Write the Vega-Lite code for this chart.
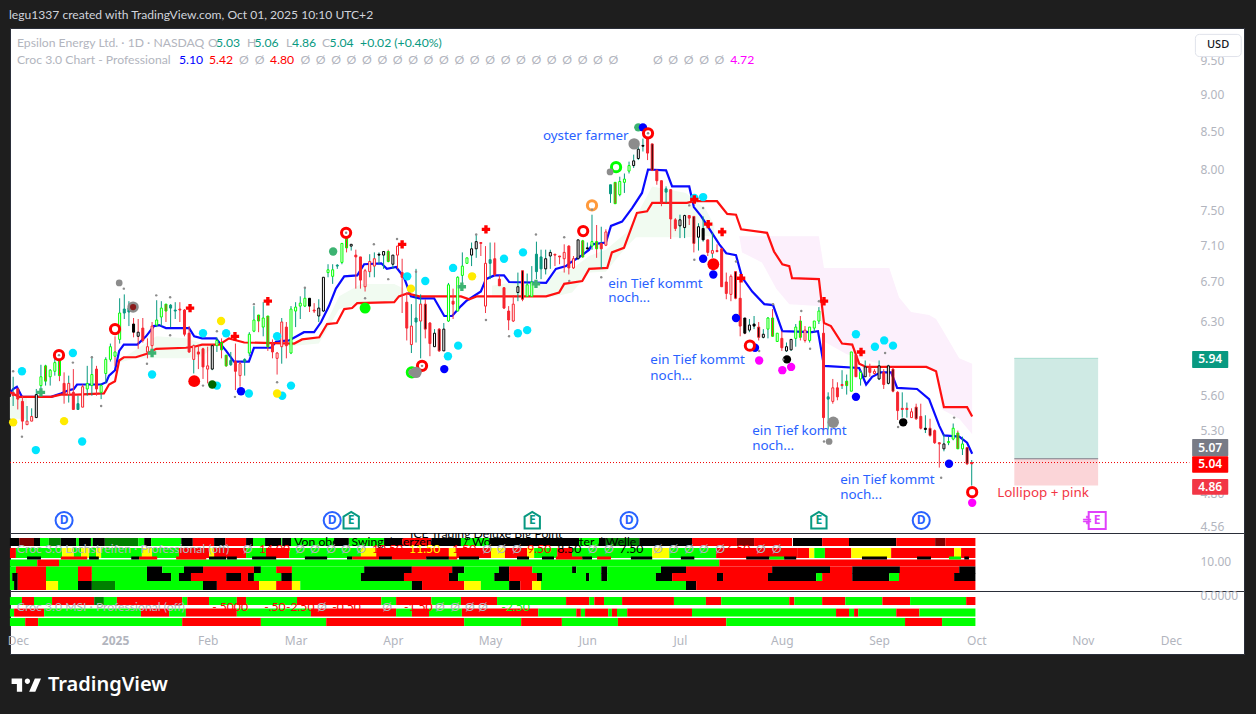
{"$schema":"https://vega.github.io/schema/vega-lite/v6.json",
"background":"#1e1e1e",
"padding":{"left":4,"top":9,"right":11,"bottom":0},
"bounds":"flush",
"spacing":0,
"title":{"text":"legu1337 created with TradingView.com, Oct 01, 2025 10:10 UTC+2","anchor":"start","frame":"group","color":"#d1d4dc","fontSize":12.1,"fontWeight":"normal","font":"Lato","offset":6,"dx":-1},
"config":{"view":{"fill":"white","stroke":"#2a2e39"},"font":"Noto Sans","axis":{"labelFont":"Noto Sans"}},
"datasets":{
"candles":[
{"i":-22,"o":5.63,"h":5.77,"l":5.51,"c":5.60,"k":"r","w":"up"},{"i":-21,"o":5.66,"h":5.67,"l":5.48,"c":5.57,"k":"r","w":"down"},{"i":-20,"o":5.55,"h":5.60,"l":5.31,"c":5.38,"k":"r","w":"down"},{"i":-19,"o":5.38,"h":5.51,"l":5.35,"c":5.35,"k":"h","w":"up"},{"i":-18,"o":5.42,"h":5.49,"l":5.38,"c":5.38,"k":"h","w":"up"},{"i":-17,"o":5.41,"h":5.66,"l":5.41,"c":5.61,"k":"b","w":"up"},{"i":-16,"o":5.69,"h":5.88,"l":5.63,"c":5.77,"k":"g","w":"up"},{"i":-15,"o":5.87,"h":5.88,"l":5.69,"c":5.73,"k":"m","w":"up"},{"i":-14,"o":5.77,"h":5.84,"l":5.69,"c":5.83,"k":"g","w":"up"},{"i":-13,"o":5.82,"h":5.97,"l":5.78,"c":5.90,"k":"g","w":"up"},{"i":-12,"o":5.92,"h":5.95,"l":5.73,"c":5.78,"k":"m","w":"down"},{"i":-11,"o":5.71,"h":5.81,"l":5.53,"c":5.61,"k":"r","w":"down"},{"i":-10,"o":5.71,"h":5.78,"l":5.54,"c":5.61,"k":"h","w":"up"},{"i":-9,"o":5.63,"h":5.84,"l":5.48,"c":5.48,"k":"r","w":"down"},{"i":-8,"o":5.53,"h":5.60,"l":5.48,"c":5.48,"k":"t","w":"up"},{"i":-7,"o":5.68,"h":5.70,"l":5.50,"c":5.50,"k":"h","w":"down"},{"i":-6,"o":5.66,"h":5.87,"l":5.60,"c":5.71,"k":"g","w":"up"},{"i":-5,"o":5.69,"h":5.96,"l":5.60,"c":5.79,"k":"g","w":"up"},{"i":-4,"o":5.84,"h":5.87,"l":5.60,"c":5.66,"k":"r","w":"down"},{"i":-3,"o":5.63,"h":5.71,"l":5.57,"c":5.69,"k":"g","w":"up"},{"i":-2,"o":5.80,"h":5.95,"l":5.71,"c":5.93,"k":"g","w":"up"},{"i":-1,"o":5.93,"h":6.08,"l":5.91,"c":6.05,"k":"g","w":"up"},{"i":0,"o":5.96,"h":6.15,"l":5.87,"c":6.00,"k":"g","w":"down"},
{"i":1,"o":6.12,"h":6.53,"l":6.08,"c":6.38,"k":"g","w":"up"},{"i":2,"o":6.38,"h":6.57,"l":6.32,"c":6.42,"k":"t","w":"up"},{"i":3,"o":6.39,"h":6.50,"l":6.25,"c":6.43,"k":"t","w":"up"},{"i":4,"o":6.27,"h":6.33,"l":6.14,"c":6.19,"k":"k","w":"down"},{"i":5,"o":6.15,"h":6.32,"l":6.03,"c":6.19,"k":"b","w":"down"},{"i":6,"o":6.23,"h":6.33,"l":6.09,"c":6.11,"k":"r","w":"down"},{"i":7,"o":6.05,"h":6.13,"l":5.94,"c":6.00,"k":"h","w":"down"},{"i":8,"o":6.25,"h":6.29,"l":6.00,"c":6.06,"k":"h","w":"down"},{"i":9,"o":6.26,"h":6.51,"l":6.24,"c":6.31,"k":"g","w":"up"},{"i":10,"o":6.34,"h":6.50,"l":6.25,"c":6.43,"k":"g","w":"up"},{"i":11,"o":6.47,"h":6.47,"l":6.29,"c":6.40,"k":"m","w":"down"},{"i":12,"o":6.43,"h":6.47,"l":6.24,"c":6.46,"k":"t","w":"up"},{"i":13,"o":6.41,"h":6.49,"l":6.32,"c":6.40,"k":"t","w":"up"},{"i":14,"o":6.42,"h":6.49,"l":6.29,"c":6.41,"k":"r","w":"down"},{"i":15,"o":6.41,"h":6.42,"l":6.15,"c":6.17,"k":"r","w":"down"},{"i":16,"o":6.18,"h":6.25,"l":5.99,"c":6.00,"k":"r","w":"down"},{"i":17,"o":6.06,"h":6.07,"l":5.80,"c":5.93,"k":"h","w":"up"},{"i":18,"o":6.00,"h":6.06,"l":5.84,"c":5.98,"k":"r","w":"down"},{"i":19,"o":6.03,"h":6.04,"l":5.75,"c":5.86,"k":"r","w":"down"},{"i":20,"o":5.87,"h":6.05,"l":5.71,"c":5.84,"k":"h","w":"down"},{"i":21,"o":5.84,"h":6.07,"l":5.83,"c":6.06,"k":"b","w":"up"},{"i":22,"o":6.06,"h":6.14,"l":6.00,"c":6.11,"k":"g","w":"up"},{"i":23,"o":6.09,"h":6.13,"l":5.94,"c":6.02,"k":"m","w":"down"},{"i":24,"o":5.97,"h":5.97,"l":5.86,"c":5.87,"k":"m","w":"down"},{"i":25,"o":5.88,"h":6.00,"l":5.87,"c":5.92,"k":"t","w":"up"},{"i":26,"o":5.91,"h":6.08,"l":5.65,"c":5.82,"k":"r","w":"down"},{"i":27,"o":5.89,"h":5.91,"l":5.68,"c":5.78,"k":"h","w":"down"},{"i":28,"o":5.91,"h":5.94,"l":5.78,"c":5.93,"k":"t","w":"up"},{"i":29,"o":5.99,"h":6.19,"l":5.96,"c":6.17,"k":"g","w":"up"},{"i":30,"o":6.20,"h":6.45,"l":6.19,"c":6.31,"k":"g","w":"up"},{"i":31,"o":6.36,"h":6.36,"l":6.19,"c":6.30,"k":"m","w":"down"},{"i":32,"o":6.24,"h":6.49,"l":6.15,"c":6.33,"k":"g","w":"up"},{"i":33,"o":6.35,"h":6.35,"l":6.01,"c":6.05,"k":"m","w":"down"},{"i":34,"o":6.08,"h":6.12,"l":5.94,"c":6.00,"k":"r","w":"down"},{"i":35,"o":5.99,"h":6.00,"l":5.79,"c":5.94,"k":"h","w":"down"},{"i":36,"o":6.29,"h":6.33,"l":5.89,"c":6.05,"k":"h","w":"up"},{"i":37,"o":6.24,"h":6.29,"l":5.94,"c":6.06,"k":"r","w":"down"},{"i":38,"o":5.99,"h":6.45,"l":5.98,"c":6.42,"k":"g","w":"up"},{"i":39,"o":6.40,"h":6.49,"l":6.24,"c":6.44,"k":"g","w":"up"},{"i":40,"o":6.45,"h":6.55,"l":6.32,"c":6.48,"k":"g","w":"up"},{"i":41,"o":6.45,"h":6.64,"l":6.44,"c":6.53,"k":"g","w":"up"},{"i":42,"o":6.53,"h":6.53,"l":6.39,"c":6.45,"k":"k","w":"down"},{"i":43,"o":6.41,"h":6.48,"l":6.38,"c":6.40,"k":"r","w":"down"},{"i":44,"o":6.35,"h":6.52,"l":6.29,"c":6.43,"k":"b","w":"up"},{"i":45,"o":6.40,"h":6.75,"l":6.39,"c":6.75,"k":"b","w":"up"},{"i":46,"o":6.80,"h":6.89,"l":6.75,"c":6.83,"k":"g","w":"up"},{"i":47,"o":6.76,"h":6.89,"l":6.68,"c":6.83,"k":"g","w":"up"},{"i":48,"o":6.87,"h":6.89,"l":6.84,"c":6.88,"k":"t","w":"up"},{"i":49,"o":6.91,"h":7.12,"l":6.89,"c":7.12,"k":"g","w":"up"},{"i":50,"o":7.18,"h":7.18,"l":7.02,"c":7.07,"k":"m","w":"down"},{"i":51,"o":7.09,"h":7.11,"l":7.04,"c":7.11,"k":"b","w":"up"},{"i":52,"o":6.99,"h":7.05,"l":6.63,"c":6.97,"k":"r","w":"down"},{"i":53,"o":6.97,"h":6.97,"l":6.63,"c":6.72,"k":"r","w":"down"},{"i":54,"o":6.82,"h":6.84,"l":6.60,"c":6.65,"k":"h","w":"down"},{"i":55,"o":6.92,"h":7.00,"l":6.75,"c":6.81,"k":"h","w":"up"},{"i":56,"o":6.95,"h":7.02,"l":6.75,"c":6.87,"k":"h","w":"up"},{"i":57,"o":6.99,"h":7.02,"l":6.89,"c":7.00,"k":"k","w":"up"},{"i":58,"o":6.99,"h":7.03,"l":6.84,"c":7.03,"k":"b","w":"up"},{"i":59,"o":7.03,"h":7.05,"l":6.91,"c":6.92,"k":"m","w":"down"},{"i":60,"o":6.89,"h":6.99,"l":6.84,"c":6.99,"k":"b","w":"up"},{"i":61,"o":7.09,"h":7.09,"l":6.84,"c":6.99,"k":"h","w":"down"},{"i":62,"o":6.80,"h":6.95,"l":6.38,"c":6.75,"k":"r","w":"down"},{"i":63,"o":6.49,"h":6.59,"l":6.11,"c":6.23,"k":"r","w":"down"},{"i":64,"o":6.25,"h":6.47,"l":5.99,"c":6.07,"k":"h","w":"up"},{"i":65,"o":6.29,"h":6.84,"l":6.09,"c":6.33,"k":"t","w":"up"},
{"i":66,"o":6.47,"h":6.57,"l":5.94,"c":6.30,"k":"h","w":"up"},{"i":67,"o":6.47,"h":6.52,"l":6.13,"c":6.22,"k":"n","w":"down"},{"i":68,"o":6.28,"h":6.29,"l":5.96,"c":6.08,"k":"r","w":"down"},{"i":69,"o":6.05,"h":6.22,"l":6.05,"c":6.18,"k":"b","w":"up"},{"i":70,"o":6.22,"h":6.23,"l":6.00,"c":6.01,"k":"n","w":"down"},{"i":71,"o":6.01,"h":6.28,"l":6.01,"c":6.22,"k":"b","w":"up"},{"i":72,"o":6.30,"h":6.69,"l":6.29,"c":6.67,"k":"g","w":"up"},{"i":73,"o":6.50,"h":6.63,"l":6.32,"c":6.47,"k":"r","w":"down"},{"i":74,"o":6.40,"h":6.76,"l":6.40,"c":6.75,"k":"g","w":"up"},{"i":75,"o":6.77,"h":7.02,"l":6.66,"c":6.87,"k":"g","w":"up"},{"i":76,"o":6.90,"h":6.96,"l":6.90,"c":6.96,"k":"g","w":"up"},{"i":77,"o":6.99,"h":7.13,"l":6.87,"c":7.06,"k":"b","w":"up"},{"i":78,"o":7.06,"h":7.22,"l":6.96,"c":7.14,"k":"b","w":"up"},{"i":79,"o":7.13,"h":7.13,"l":6.98,"c":7.12,"k":"r","w":"down"},{"i":80,"o":6.90,"h":7.09,"l":6.38,"c":6.45,"k":"h","w":"down"},{"i":81,"o":6.90,"h":7.13,"l":6.73,"c":6.94,"k":"t","w":"up"},{"i":82,"o":6.95,"h":7.13,"l":6.76,"c":6.78,"k":"r","w":"down"},{"i":83,"o":6.73,"h":6.77,"l":6.66,"c":6.66,"k":"r","w":"down"},{"i":84,"o":6.64,"h":6.64,"l":6.42,"c":6.43,"k":"r","w":"down"},{"i":85,"o":6.40,"h":6.45,"l":6.21,"c":6.31,"k":"r","w":"down"},{"i":86,"o":6.47,"h":6.56,"l":6.29,"c":6.30,"k":"h","w":"down"},{"i":87,"o":6.59,"h":6.80,"l":6.50,"c":6.65,"k":"b","w":"up"},{"i":88,"o":6.82,"h":6.82,"l":6.50,"c":6.52,"k":"n","w":"down"},{"i":89,"o":6.55,"h":6.79,"l":6.55,"c":6.67,"k":"g","w":"up"},{"i":90,"o":6.55,"h":6.87,"l":6.55,"c":6.70,"k":"g","w":"up"},{"i":91,"o":6.81,"h":7.14,"l":6.73,"c":7.00,"k":"t","w":"up"},{"i":92,"o":6.84,"h":7.05,"l":6.73,"c":6.97,"k":"t","w":"up"},{"i":93,"o":6.84,"h":7.05,"l":6.78,"c":6.95,"k":"b","w":"up"},{"i":94,"o":6.98,"h":7.05,"l":6.84,"c":7.02,"k":"b","w":"up"},{"i":95,"o":7.00,"h":7.00,"l":6.87,"c":6.99,"k":"r","w":"down"},{"i":96,"o":6.98,"h":6.98,"l":6.89,"c":6.97,"k":"r","w":"down"},{"i":97,"o":7.02,"h":7.11,"l":6.80,"c":6.95,"k":"h","w":"down"},{"i":98,"o":7.09,"h":7.10,"l":6.78,"c":6.85,"k":"r","w":"down"},{"i":99,"o":6.95,"h":6.98,"l":6.84,"c":6.85,"k":"h","w":"down"},{"i":100,"o":6.95,"h":7.16,"l":6.94,"c":7.16,"k":"b","w":"up"},{"i":101,"o":7.15,"h":7.16,"l":6.96,"c":6.97,"k":"m","w":"down"},{"i":102,"o":7.06,"h":7.13,"l":7.05,"c":7.07,"k":"k","w":"up"},{"i":103,"o":7.09,"h":7.45,"l":7.05,"c":7.14,"k":"g","w":"up"},{"i":104,"o":7.14,"h":7.33,"l":6.96,"c":7.06,"k":"m","w":"down"},{"i":105,"o":7.12,"h":7.31,"l":6.84,"c":7.06,"k":"r","w":"up"},{"i":106,"o":7.25,"h":7.28,"l":7.09,"c":7.10,"k":"h","w":"down"},{"i":107,"o":7.70,"h":7.81,"l":7.59,"c":7.81,"k":"t","w":"up"},{"i":108,"o":7.84,"h":7.84,"l":7.58,"c":7.58,"k":"m","w":"down"},{"i":109,"o":7.69,"h":7.91,"l":7.67,"c":7.85,"k":"g","w":"up"},{"i":110,"o":7.84,"h":7.95,"l":7.71,"c":7.88,"k":"g","w":"up"},{"i":111,"o":7.98,"h":8.10,"l":7.95,"c":8.05,"k":"g","w":"up"},{"i":112,"o":8.05,"h":8.19,"l":8.02,"c":8.11,"k":"b","w":"up"},{"i":113,"o":8.14,"h":8.34,"l":8.12,"c":8.26,"k":"b","w":"up"},{"i":114,"o":8.30,"h":8.40,"l":8.23,"c":8.31,"k":"k","w":"up"},{"i":115,"o":8.40,"h":8.48,"l":8.12,"c":8.21,"k":"r","w":"down"},{"i":116,"o":8.33,"h":8.33,"l":7.98,"c":7.99,"k":"n","w":"down"},{"i":117,"o":7.99,"h":8.00,"l":7.81,"c":7.86,"k":"r","w":"down"},{"i":118,"o":7.86,"h":7.86,"l":7.55,"c":7.59,"k":"r","w":"down"},{"i":119,"o":7.72,"h":7.79,"l":7.59,"c":7.76,"k":"t","w":"up"},{"i":120,"o":7.75,"h":7.75,"l":7.17,"c":7.40,"k":"r","w":"down"},{"i":121,"o":7.39,"h":7.41,"l":7.26,"c":7.29,"k":"r","w":"down"},{"i":122,"o":7.32,"h":7.45,"l":7.18,"c":7.39,"k":"b","w":"up"},{"i":123,"o":7.30,"h":7.45,"l":7.18,"c":7.44,"k":"b","w":"up"},{"i":124,"o":7.44,"h":7.44,"l":7.33,"c":7.41,"k":"r","w":"down"},{"i":125,"o":7.43,"h":7.43,"l":7.02,"c":7.12,"k":"n","w":"down"},{"i":126,"o":7.19,"h":7.35,"l":7.04,"c":7.31,"k":"b","w":"up"},{"i":127,"o":7.29,"h":7.43,"l":7.14,"c":7.16,"k":"k","w":"up"},{"i":128,"o":7.16,"h":7.16,"l":6.98,"c":7.02,"k":"r","w":"down"},{"i":129,"o":7.04,"h":7.24,"l":6.96,"c":7.01,"k":"h","w":"up"},{"i":130,"o":7.04,"h":7.11,"l":7.02,"c":7.03,"k":"r","w":"down"},{"i":131,"o":7.06,"h":7.07,"l":6.65,"c":6.65,"k":"r","w":"down"},{"i":132,"o":6.70,"h":6.80,"l":6.52,"c":6.58,"k":"r","w":"down"},{"i":133,"o":6.76,"h":6.78,"l":6.50,"c":6.57,"k":"h","w":"down"},{"i":134,"o":6.81,"h":6.81,"l":6.52,"c":6.53,"k":"n","w":"down"},{"i":135,"o":6.53,"h":6.73,"l":6.15,"c":6.25,"k":"r","w":"down"},{"i":136,"o":6.33,"h":6.33,"l":6.17,"c":6.18,"k":"k","w":"down"},{"i":137,"o":6.21,"h":6.32,"l":6.19,"c":6.26,"k":"b","w":"up"},{"i":138,"o":6.25,"h":6.35,"l":6.22,"c":6.27,"k":"k","w":"up"},{"i":139,"o":6.24,"h":6.29,"l":6.11,"c":6.14,"k":"n","w":"down"},{"i":140,"o":6.14,"h":6.22,"l":6.13,"c":6.17,"k":"b","w":"up"},{"i":141,"o":6.22,"h":6.34,"l":6.13,"c":6.33,"k":"g","w":"up"},{"i":142,"o":6.33,"h":6.42,"l":6.15,"c":6.15,"k":"m","w":"down"},{"i":143,"o":6.10,"h":6.18,"l":6.10,"c":6.18,"k":"g","w":"up"},
{"i":144,"o":6.13,"h":6.20,"l":6.01,"c":6.04,"k":"r","w":"down"},{"i":145,"o":6.01,"h":6.09,"l":6.00,"c":6.05,"k":"b","w":"up"},{"i":146,"o":6.02,"h":6.12,"l":6.01,"c":6.12,"k":"b","w":"up"},{"i":147,"o":6.13,"h":6.27,"l":6.05,"c":6.24,"k":"g","w":"up"},{"i":148,"o":6.30,"h":6.35,"l":6.11,"c":6.14,"k":"m","w":"down"},{"i":149,"o":6.21,"h":6.25,"l":6.09,"c":6.11,"k":"h","w":"down"},{"i":150,"o":6.11,"h":6.24,"l":6.09,"c":6.24,"k":"g","w":"up"},{"i":151,"o":6.23,"h":6.30,"l":6.19,"c":6.30,"k":"g","w":"up"},{"i":152,"o":6.30,"h":6.44,"l":6.27,"c":6.40,"k":"g","w":"up"},{"i":153,"o":6.18,"h":6.27,"l":5.31,"c":5.41,"k":"r","w":"down"},{"i":154,"o":5.57,"h":5.63,"l":5.31,"c":5.59,"k":"t","w":"up"},{"i":155,"o":5.67,"h":5.75,"l":5.53,"c":5.55,"k":"h","w":"down"},{"i":156,"o":5.67,"h":5.72,"l":5.56,"c":5.59,"k":"r","w":"down"},{"i":157,"o":5.70,"h":5.83,"l":5.66,"c":5.69,"k":"r","w":"up"},{"i":158,"o":5.73,"h":5.79,"l":5.61,"c":5.69,"k":"m","w":"up"},{"i":159,"o":5.64,"h":6.00,"l":5.64,"c":6.00,"k":"g","w":"up"},{"i":160,"o":5.97,"h":5.98,"l":5.77,"c":5.77,"k":"r","w":"down"},{"i":161,"o":5.75,"h":5.83,"l":5.69,"c":5.81,"k":"g","w":"up"},{"i":162,"o":5.77,"h":5.92,"l":5.77,"c":5.86,"k":"b","w":"up"},{"i":163,"o":5.86,"h":5.89,"l":5.77,"c":5.81,"k":"r","w":"down"},{"i":164,"o":5.82,"h":5.84,"l":5.79,"c":5.80,"k":"h","w":"down"},{"i":165,"o":5.75,"h":5.92,"l":5.74,"c":5.87,"k":"b","w":"up"},{"i":166,"o":5.81,"h":5.84,"l":5.66,"c":5.70,"k":"r","w":"down"},{"i":167,"o":5.71,"h":5.88,"l":5.70,"c":5.87,"k":"b","w":"up"},{"i":168,"o":5.84,"h":5.86,"l":5.63,"c":5.64,"k":"n","w":"down"},{"i":169,"o":5.63,"h":5.64,"l":5.39,"c":5.47,"k":"r","w":"down"},{"i":170,"o":5.49,"h":5.63,"l":5.41,"c":5.48,"k":"r","w":"up"},{"i":171,"o":5.49,"h":5.54,"l":5.41,"c":5.48,"k":"r","w":"up"},{"i":172,"o":5.46,"h":5.49,"l":5.41,"c":5.41,"k":"h","w":"down"},{"i":173,"o":5.50,"h":5.53,"l":5.39,"c":5.40,"k":"n","w":"down"},{"i":174,"o":5.42,"h":5.53,"l":5.31,"c":5.32,"k":"r","w":"down"},{"i":175,"o":5.31,"h":5.43,"l":5.28,"c":5.32,"k":"k","w":"up"},{"i":176,"o":5.32,"h":5.40,"l":5.25,"c":5.26,"k":"n","w":"down"},{"i":177,"o":5.30,"h":5.31,"l":5.19,"c":5.20,"k":"r","w":"down"},{"i":178,"o":5.20,"h":5.20,"l":5.00,"c":5.19,"k":"r","w":"down"},{"i":179,"o":5.15,"h":5.27,"l":5.13,"c":5.19,"k":"b","w":"up"},{"i":180,"o":5.20,"h":5.25,"l":5.18,"c":5.21,"k":"g","w":"up"},{"i":181,"o":5.23,"h":5.36,"l":5.22,"c":5.32,"k":"g","w":"up"},{"i":182,"o":5.28,"h":5.30,"l":5.15,"c":5.15,"k":"m","w":"down"},{"i":183,"o":5.15,"h":5.25,"l":5.10,"c":5.19,"k":"g","w":"up"},{"i":184,"o":5.16,"h":5.16,"l":5.02,"c":5.03,"k":"n","w":"down"},{"i":185,"o":5.03,"h":5.06,"l":4.86,"c":5.04,"k":"r","w":"up"}
],
"lines":[
{"s":"blue","i":-22.7,"p":5.62},{"s":"blue","i":-22,"p":5.66},{"s":"blue","i":-21.2,"p":5.68},{"s":"blue","i":-20.1,"p":5.59},{"s":"blue","i":-17.9,"p":5.59},{"s":"blue","i":-13.8,"p":5.59},{"s":"blue","i":-11.7,"p":5.62},{"s":"blue","i":-9.9,"p":5.65},{"s":"blue","i":-8.9,"p":5.66},{"s":"blue","i":-8.2,"p":5.70},{"s":"blue","i":-3,"p":5.70},{"s":"blue","i":-1.9,"p":5.72},{"s":"blue","i":-1.3,"p":5.78},{"s":"blue","i":0,"p":5.83},{"s":"blue","i":0.2,"p":5.87},{"s":"blue","i":0.9,"p":6.01},{"s":"blue","i":1.9,"p":6.07},{"s":"blue","i":4.8,"p":6.07},{"s":"blue","i":6.7,"p":6.15},{"s":"blue","i":8.4,"p":6.25},{"s":"blue","i":9.5,"p":6.26},{"s":"blue","i":11,"p":6.23},{"s":"blue","i":16,"p":6.23},{"s":"blue","i":17.1,"p":6.15},{"s":"blue","i":18.8,"p":6.13},{"s":"blue","i":21.8,"p":6.13},{"s":"blue","i":24,"p":6.01},{"s":"blue","i":25.7,"p":5.91},{"s":"blue","i":28.9,"p":5.91},{"s":"blue","i":30,"p":6.04},{"s":"blue","i":33.7,"p":6.04},{"s":"blue","i":34.8,"p":6.10},{"s":"blue","i":37.6,"p":6.11},{"s":"blue","i":40.8,"p":6.19},{"s":"blue","i":43,"p":6.19},{"s":"blue","i":44.5,"p":6.29},{"s":"blue","i":46.2,"p":6.45},{"s":"blue","i":47.7,"p":6.63},{"s":"blue","i":49.5,"p":6.76},{"s":"blue","i":52.3,"p":6.77},{"s":"blue","i":53.8,"p":6.89},{"s":"blue","i":57.5,"p":6.90},{"s":"blue","i":58.7,"p":6.84},{"s":"blue","i":60.7,"p":6.86},{"s":"blue","i":62.4,"p":6.75},{"s":"blue","i":63.9,"p":6.55},{"s":"blue","i":65.7,"p":6.53},{"s":"blue","i":68.9,"p":6.53},{"s":"blue","i":71.1,"p":6.35},{"s":"blue","i":72.8,"p":6.35},{"s":"blue","i":74.7,"p":6.45},{"s":"blue","i":75.8,"p":6.50},{"s":"blue","i":79,"p":6.60},{"s":"blue","i":80.1,"p":6.73},{"s":"blue","i":81.9,"p":6.77},{"s":"blue","i":84,"p":6.77},{"s":"blue","i":85.1,"p":6.70},{"s":"blue","i":93.1,"p":6.69},{"s":"blue","i":95.2,"p":6.84},{"s":"blue","i":97.4,"p":6.87},{"s":"blue","i":98.1,"p":6.90},{"s":"blue","i":100.6,"p":6.98},{"s":"blue","i":102.4,"p":7.05},{"s":"blue","i":103,"p":7.11},{"s":"blue","i":106,"p":7.13},{"s":"blue","i":107.1,"p":7.32},{"s":"blue","i":109.5,"p":7.37},{"s":"blue","i":111.7,"p":7.53},{"s":"blue","i":113.8,"p":7.71},{"s":"blue","i":115.1,"p":8.00},{"s":"blue","i":119,"p":7.99},{"s":"blue","i":120.3,"p":7.79},{"s":"blue","i":124,"p":7.79},{"s":"blue","i":125,"p":7.54},{"s":"blue","i":126.6,"p":7.43},{"s":"blue","i":128.9,"p":7.24},{"s":"blue","i":130.5,"p":7.11},{"s":"blue","i":132,"p":7.01},{"s":"blue","i":134.1,"p":6.99},{"s":"blue","i":135.4,"p":6.75},{"s":"blue","i":137.6,"p":6.60},{"s":"blue","i":140.2,"p":6.47},{"s":"blue","i":142.1,"p":6.46},{"s":"blue","i":144.1,"p":6.20},{"s":"blue","i":150.5,"p":6.19},{"s":"blue","i":151.8,"p":6.20},{"s":"blue","i":153.1,"p":5.87},{"s":"blue","i":160.7,"p":5.85},{"s":"blue","i":162.2,"p":5.70},{"s":"blue","i":163.5,"p":5.77},{"s":"blue","i":165.4,"p":5.81},{"s":"blue","i":167.6,"p":5.81},{"s":"blue","i":168.9,"p":5.67},{"s":"blue","i":173.2,"p":5.66},{"s":"blue","i":175.8,"p":5.57},{"s":"blue","i":178,"p":5.34},{"s":"blue","i":179,"p":5.26},{"s":"blue","i":182.3,"p":5.25},{"s":"blue","i":184,"p":5.20},{"s":"blue","i":185.1,"p":5.11},
{"s":"red","i":-22.7,"p":5.63},{"s":"red","i":-20.7,"p":5.59},{"s":"red","i":-13.8,"p":5.59},{"s":"red","i":-11.7,"p":5.61},{"s":"red","i":-8.2,"p":5.61},{"s":"red","i":-2.4,"p":5.62},{"s":"red","i":-1.3,"p":5.70},{"s":"red","i":0,"p":5.73},{"s":"red","i":0.9,"p":5.92},{"s":"red","i":1.9,"p":5.95},{"s":"red","i":4.5,"p":5.95},{"s":"red","i":6.7,"p":5.98},{"s":"red","i":8.9,"p":6.03},{"s":"red","i":15.3,"p":6.04},{"s":"red","i":17.1,"p":6.05},{"s":"red","i":18.8,"p":6.07},{"s":"red","i":22.5,"p":6.07},{"s":"red","i":24.6,"p":6.13},{"s":"red","i":27.9,"p":6.09},{"s":"red","i":38.7,"p":6.08},{"s":"red","i":40.4,"p":6.12},{"s":"red","i":44.1,"p":6.14},{"s":"red","i":45.8,"p":6.27},{"s":"red","i":47.9,"p":6.28},{"s":"red","i":49.5,"p":6.42},{"s":"red","i":51.2,"p":6.43},{"s":"red","i":52.3,"p":6.48},{"s":"red","i":60.3,"p":6.49},{"s":"red","i":61.3,"p":6.55},{"s":"red","i":63.1,"p":6.58},{"s":"red","i":65.7,"p":6.55},{"s":"red","i":74.7,"p":6.55},{"s":"red","i":76.5,"p":6.52},{"s":"red","i":78.2,"p":6.55},{"s":"red","i":93.1,"p":6.55},{"s":"red","i":95.9,"p":6.59},{"s":"red","i":97,"p":6.68},{"s":"red","i":100.9,"p":6.71},{"s":"red","i":102.4,"p":6.84},{"s":"red","i":106.3,"p":6.85},{"s":"red","i":107.3,"p":7.02},{"s":"red","i":109.9,"p":7.07},{"s":"red","i":112.7,"p":7.47},{"s":"red","i":114.9,"p":7.49},{"s":"red","i":116,"p":7.59},{"s":"red","i":123.5,"p":7.59},{"s":"red","i":125,"p":7.61},{"s":"red","i":130,"p":7.61},{"s":"red","i":132.2,"p":7.46},{"s":"red","i":134.1,"p":7.45},{"s":"red","i":135.2,"p":7.28},{"s":"red","i":140.8,"p":7.24},{"s":"red","i":142.3,"p":7.03},{"s":"red","i":144.1,"p":6.89},{"s":"red","i":145.6,"p":6.87},{"s":"red","i":146.2,"p":6.74},{"s":"red","i":152,"p":6.73},{"s":"red","i":153.1,"p":6.28},{"s":"red","i":154.6,"p":6.25},{"s":"red","i":157,"p":6.08},{"s":"red","i":159.2,"p":6.07},{"s":"red","i":160.7,"p":5.89},{"s":"red","i":162.2,"p":5.86},{"s":"red","i":175.2,"p":5.86},{"s":"red","i":177.3,"p":5.82},{"s":"red","i":179,"p":5.50},{"s":"red","i":184,"p":5.50},{"s":"red","i":185.1,"p":5.42}
],
"clouds":[
{"c":"g1","t":"bull","i":-22.7,"u":5.59,"d":5.40},{"c":"g1","t":"bull","i":-19,"u":5.59,"d":5.40},
{"c":"g2","t":"bull","i":0.9,"u":5.92,"d":5.90},{"c":"g2","t":"bull","i":4.5,"u":6.02,"d":5.94},{"c":"g2","t":"bull","i":8.9,"u":6.15,"d":5.94},{"c":"g2","t":"bull","i":15.3,"u":6.13,"d":5.94},{"c":"g2","t":"bull","i":18.8,"u":6.08,"d":5.96},{"c":"g2","t":"bull","i":22,"u":6.07,"d":6.07},
{"c":"g3","t":"bull","i":36.5,"u":6.07,"d":6.05},{"c":"g3","t":"bull","i":44,"u":6.13,"d":6.08},{"c":"g3","t":"bull","i":48.4,"u":6.55,"d":6.42},{"c":"g3","t":"bull","i":53.1,"u":6.68,"d":6.48},{"c":"g3","t":"bull","i":60.3,"u":6.68,"d":6.49},{"c":"g3","t":"bull","i":62.4,"u":6.63,"d":6.57},
{"c":"g4","t":"bull","i":81.4,"u":6.66,"d":6.55},{"c":"g4","t":"bull","i":85.1,"u":6.69,"d":6.54},{"c":"g4","t":"bull","i":93.1,"u":6.68,"d":6.54},{"c":"g4","t":"bull","i":95.2,"u":6.80,"d":6.55},{"c":"g4","t":"bull","i":98.7,"u":6.84,"d":6.59},{"c":"g4","t":"bull","i":102.4,"u":6.98,"d":6.80},{"c":"g4","t":"bull","i":106,"u":7.05,"d":6.81},{"c":"g4","t":"bull","i":110.4,"u":7.24,"d":7.08},{"c":"g4","t":"bull","i":112.5,"u":7.43,"d":7.19},{"c":"g4","t":"bull","i":116,"u":7.79,"d":7.19},{"c":"g4","t":"bull","i":123.3,"u":7.71,"d":7.19},{"c":"g4","t":"bull","i":127.6,"u":7.51,"d":7.20},{"c":"g4","t":"bull","i":129.4,"u":7.33,"d":7.20},
{"c":"p1","t":"bear","i":134.8,"u":7.20,"d":7.20},{"c":"p1","t":"bear","i":135.4,"u":7.20,"d":7.02},{"c":"p1","t":"bear","i":139.7,"u":7.20,"d":6.91},{"c":"p1","t":"bear","i":142.8,"u":7.20,"d":6.63},{"c":"p1","t":"bear","i":145.6,"u":7.20,"d":6.47},{"c":"p1","t":"bear","i":152,"u":7.20,"d":6.45},{"c":"p1","t":"bear","i":153.1,"u":6.85,"d":6.10},{"c":"p1","t":"bear","i":157.9,"u":6.85,"d":5.98},{"c":"p1","t":"bear","i":161,"u":6.85,"d":5.94},{"c":"p1","t":"bear","i":167.2,"u":6.85,"d":5.86},{"c":"p1","t":"bear","i":169.3,"u":6.54,"d":5.86},{"c":"p1","t":"bear","i":171.9,"u":6.39,"d":5.86},{"c":"p1","t":"bear","i":175.8,"u":6.36,"d":5.86},{"c":"p1","t":"bear","i":177.3,"u":6.32,"d":5.82},{"c":"p1","t":"bear","i":178.6,"u":6.22,"d":5.48},{"c":"p1","t":"bear","i":182.3,"u":5.94,"d":5.40},{"c":"p1","t":"bear","i":185.1,"u":5.89,"d":5.27}
],
"dots":[
{"i":-20.1,"p":5.82,"n":"cyan"},{"i":-17.1,"p":5.14,"n":"cyan"},{"i":-9.1,"p":5.99,"n":"cyan"},{"i":-7.1,"p":5.21,"n":"cyan"},{"i":8,"p":5.79,"n":"cyan"},{"i":19,"p":6.18,"n":"cyan"},{"i":22,"p":5.69,"n":"cyan"},{"i":24,"p":6.18,"n":"cyan"},{"i":28.9,"p":5.62,"n":"cyan"},{"i":35,"p":6.15,"n":"cyan"},{"i":36.1,"p":5.60,"n":"cyan"},{"i":38,"p":5.69,"n":"cyan"},{"i":63.1,"p":6.76,"n":"cyan"},{"i":67,"p":6.71,"n":"cyan"},{"i":73,"p":6.85,"n":"cyan"},{"i":84,"p":6.95,"n":"cyan"},{"i":88.1,"p":7.02,"n":"cyan"},{"i":87,"p":6.18,"n":"cyan"},{"i":89,"p":6.21,"n":"cyan"},{"i":74.1,"p":6.06,"n":"cyan"},{"i":71.9,"p":5.96,"n":"cyan"},{"i":125.1,"p":7.65,"n":"cyan"},{"i":127,"p":7.66,"n":"cyan"},{"i":160,"p":6.17,"n":"cyan"},{"i":164.1,"p":6.05,"n":"cyan"},{"i":166.1,"p":6.11,"n":"cyan"},{"i":168,"p":6.06,"n":"cyan"},
{"i":-22,"p":5.37,"n":"yellow"},{"i":-11,"p":5.38,"n":"yellow"},{"i":22.9,"p":6.30,"n":"yellow"},{"i":35,"p":5.62,"n":"yellow"},{"i":63.9,"p":6.63,"n":"yellow"},{"i":77.1,"p":6.76,"n":"yellow"},
{"i":27.2,"p":5.64,"n":"blue"},{"i":127,"p":6.95,"n":"blue"},{"i":129.2,"p":6.78,"n":"blue"},{"i":134.1,"p":6.33,"n":"blue"},{"i":138.2,"p":6.04,"n":"blue"},{"i":160,"p":5.59,"n":"blue"},{"i":180.1,"p":5.03,"n":"blue"},{"i":71.1,"p":5.84,"n":"blue"},
{"i":47.1,"p":7.03,"n":"sea"},{"i":113,"p":8.55,"n":"sea"},{"i":114,"p":8.55,"n":"blue"},
{"i":54,"p":6.43,"n":"lime"},{"i":17.1,"p":5.73,"n":"red"},{"i":129.2,"p":6.89,"n":"red"},{"i":21,"p":5.70,"n":"forest"},
{"i":139.1,"p":5.92,"n":"magenta"},{"i":144.1,"p":5.83,"n":"magenta"},{"i":146,"p":5.86,"n":"magenta"},{"i":185.1,"p":4.73,"n":"magenta"},{"i":145.1,"p":5.93,"n":"black"},{"i":170.2,"p":5.37,"n":"black"}
],
"rings":[
{"i":-12.1,"p":5.97,"n":"red"},{"i":0,"p":6.22,"n":"red"},{"i":49.9,"p":7.24,"n":"red"},{"i":66.3,"p":5.87,"n":"red"},{"i":101.1,"p":7.26,"n":"red"},{"i":115.1,"p":8.47,"n":"red"},{"i":137.1,"p":6.06,"n":"red"},{"i":185.1,"p":4.81,"n":"red"},{"i":103,"p":7.56,"n":"orange"},{"i":108.2,"p":8.03,"n":"lime"},{"i":64.1,"p":5.81,"n":"lime"}
],
"crosses":[
{"i":16.2,"p":6.43,"n":"red"},{"i":33,"p":6.50,"n":"red"},{"i":25.9,"p":6.15,"n":"red"},{"i":62,"p":7.11,"n":"red"},{"i":80.1,"p":7.28,"n":"red"},{"i":125.1,"p":7.63,"n":"red"},{"i":128.1,"p":7.34,"n":"red"},{"i":131.1,"p":7.25,"n":"red"},{"i":135.2,"p":6.74,"n":"red"},{"i":153.1,"p":6.50,"n":"red"},{"i":161.1,"p":6.00,"n":"red"},{"i":-16,"p":5.63,"n":"sea"},{"i":8,"p":5.99,"n":"sea"},{"i":74.9,"p":6.65,"n":"sea"},{"i":90.9,"p":6.68,"n":"sea"}
],
"overlay":[
{"i":3.9,"p":6.44,"n":"greyB"},{"i":112.1,"p":8.33,"n":"greyB"},{"i":155.1,"p":5.37,"n":"greyB"},{"i":65,"p":5.81,"n":"greyB"},{"i":0.9,"p":6.69,"n":"grey"},{"i":154.2,"p":5.21,"n":"grey"},{"i":106.9,"p":7.97,"n":"grey"},{"i":64.1,"p":5.81,"n":"grey"},{"i":3.9,"p":6.44,"n":"maroon"},
{"i":-20.1,"p":5.25,"n":"tiny"},{"i":-22,"p":5.82,"n":"tiny"},{"i":-9.1,"p":5.90,"n":"tiny"},{"i":-5,"p":5.95,"n":"tiny"},{"i":-3,"p":5.51,"n":"tiny"},{"i":1.9,"p":6.63,"n":"tiny"},{"i":6.9,"p":5.89,"n":"tiny"},{"i":8.9,"p":6.56,"n":"tiny"},{"i":11.9,"p":6.54,"n":"tiny"},{"i":11.9,"p":6.16,"n":"tiny"},{"i":19,"p":5.69,"n":"tiny"},{"i":22,"p":6.20,"n":"tiny"},{"i":25.9,"p":5.59,"n":"tiny"},{"i":30,"p":6.47,"n":"tiny"},{"i":35,"p":5.72,"n":"tiny"},{"i":41,"p":6.64,"n":"tiny"},{"i":49.9,"p":7.24,"n":"tiny"},{"i":-12.1,"p":5.97,"n":"tiny"},{"i":54,"p":6.53,"n":"tiny"},{"i":55.9,"p":7.11,"n":"tiny"},{"i":59,"p":6.73,"n":"tiny"},{"i":60.9,"p":7.17,"n":"tiny"},{"i":65,"p":6.81,"n":"tiny"},{"i":78,"p":7.22,"n":"tiny"},{"i":80.1,"p":6.31,"n":"tiny"},{"i":85.1,"p":6.15,"n":"tiny"},{"i":90.9,"p":7.22,"n":"tiny"},{"i":97,"p":7.19,"n":"tiny"},{"i":98.1,"p":6.71,"n":"tiny"},{"i":105,"p":6.75,"n":"tiny"},{"i":103,"p":7.51,"n":"tiny"},{"i":115.1,"p":8.47,"n":"tiny"},{"i":124,"p":7.56,"n":"tiny"},{"i":127,"p":7.53,"n":"tiny"},{"i":125.1,"p":6.94,"n":"tiny"},{"i":134.1,"p":6.92,"n":"tiny"},{"i":142.1,"p":6.47,"n":"tiny"},{"i":148.2,"p":6.40,"n":"tiny"},{"i":150.1,"p":6.03,"n":"tiny"},{"i":152,"p":6.50,"n":"tiny"},{"i":139.1,"p":6.01,"n":"tiny"},{"i":144.3,"p":5.93,"n":"tiny"},{"i":169.1,"p":5.33,"n":"tiny"},{"i":166.3,"p":5.99,"n":"tiny"},{"i":181.2,"p":5.41,"n":"tiny"},{"i":178.4,"p":4.92,"n":"tiny"},{"i":153.1,"p":5.21,"n":"tiny"},{"i":66.3,"p":5.87,"n":"tiny"}
],
"tool":[{"a":194.2,"b":212.3,"t":5.94,"d":5.07,"z":"target"},{"a":194.2,"b":212.3,"t":5.07,"d":4.86,"z":"stop"}],
"levels":[{"a":194.2,"b":212.3,"p":5.94,"z":"target"},{"a":194.2,"b":212.3,"p":5.07,"z":"entry"},{"a":-22.68,"b":232,"p":5.04,"z":"last"}],
"tags":[{"a":232.6,"b":240.4,"t":6.01,"d":5.85,"m":5.93,"x":236.5,"z":"target","text":"5.94"},{"a":232.6,"b":240.4,"t":5.23,"d":5.09,"m":5.16,"x":236.5,"z":"entry","text":"5.07"},{"a":232.6,"b":240.4,"t":5.09,"d":4.96,"m":5.03,"x":236.5,"z":"last","text":"5.04"},{"a":232.6,"b":240.4,"t":4.91,"d":4.79,"m":4.85,"x":236.5,"z":"stop","text":"4.86"}],
"events":[{"i":-11,"p":4.6,"n":"D"},{"i":46.9,"p":4.6,"n":"D"},{"i":111,"p":4.6,"n":"D"},{"i":174.1,"p":4.6,"n":"D"},{"i":51,"p":4.6,"n":"E"},{"i":90.1,"p":4.6,"n":"E"},{"i":152,"p":4.6,"n":"E"},{"i":212.1,"p":4.6,"n":"P"}],
"eventText":[{"i":-11,"p":4.6,"n":"D","text":"D"},{"i":46.9,"p":4.6,"n":"D","text":"D"},{"i":111,"p":4.6,"n":"D","text":"D"},{"i":174.1,"p":4.6,"n":"D","text":"D"},{"i":51,"p":4.6,"n":"E","text":"E"},{"i":90.1,"p":4.6,"n":"E","text":"E"},{"i":152,"p":4.6,"n":"E","text":"E"},{"i":212.1,"p":4.6,"n":"P","text":"E"},{"i":209.9,"p":4.6,"n":"P","text":"≑"}],
"legend":[
{"x":-21.17,"p":9.77,"t":"grey","text":"Epsilon Energy Ltd. · 1D · NASDAQ"},{"x":20.09,"p":9.77,"t":"grey","text":"O"},{"x":21.81,"p":9.77,"t":"green","text":"5.03"},{"x":28.5,"p":9.77,"t":"grey","text":"H"},{"x":30.13,"p":9.77,"t":"green","text":"5.06"},{"x":36.93,"p":9.77,"t":"grey","text":"L"},{"x":38.23,"p":9.77,"t":"green","text":"4.86"},{"x":44.71,"p":9.77,"t":"grey","text":"C"},{"x":46.33,"p":9.77,"t":"green","text":"5.04"},{"x":52.92,"p":9.77,"t":"green","text":"+0.02 (+0.40%)"},
{"x":-21.17,"p":9.51,"t":"grey","text":"Croc 3.0 Chart - Professional"},{"x":13.82,"p":9.51,"t":"blue","text":"5.10"},{"x":20.3,"p":9.51,"t":"red","text":"5.42"},{"x":26.78,"p":9.51,"t":"grey","text":"Ø"},{"x":30.2,"p":9.51,"t":"grey","text":"Ø"},{"x":33.48,"p":9.51,"t":"red","text":"4.80"},
{"x":40.03,"p":9.51,"t":"grey","text":"Ø"},{"x":43.36,"p":9.51,"t":"grey","text":"Ø"},{"x":46.68,"p":9.51,"t":"grey","text":"Ø"},{"x":50.01,"p":9.51,"t":"grey","text":"Ø"},{"x":53.33,"p":9.51,"t":"grey","text":"Ø"},{"x":56.66,"p":9.51,"t":"grey","text":"Ø"},{"x":59.99,"p":9.51,"t":"grey","text":"Ø"},{"x":63.31,"p":9.51,"t":"grey","text":"Ø"},{"x":66.64,"p":9.51,"t":"grey","text":"Ø"},{"x":69.96,"p":9.51,"t":"grey","text":"Ø"},{"x":73.29,"p":9.51,"t":"grey","text":"Ø"},{"x":76.62,"p":9.51,"t":"grey","text":"Ø"},{"x":79.94,"p":9.51,"t":"grey","text":"Ø"},{"x":83.27,"p":9.51,"t":"grey","text":"Ø"},{"x":86.6,"p":9.51,"t":"grey","text":"Ø"},{"x":89.92,"p":9.51,"t":"grey","text":"Ø"},{"x":93.25,"p":9.51,"t":"grey","text":"Ø"},{"x":96.57,"p":9.51,"t":"grey","text":"Ø"},{"x":99.9,"p":9.51,"t":"grey","text":"Ø"},{"x":103.23,"p":9.51,"t":"grey","text":"Ø"},{"x":106.55,"p":9.51,"t":"grey","text":"Ø"},
{"x":116.16,"p":9.51,"t":"grey","text":"Ø"},{"x":119.49,"p":9.51,"t":"grey","text":"Ø"},{"x":122.82,"p":9.51,"t":"grey","text":"Ø"},{"x":126.14,"p":9.51,"t":"grey","text":"Ø"},{"x":129.47,"p":9.51,"t":"grey","text":"Ø"},{"x":132.83,"p":9.51,"t":"magenta","text":"4.72"}
],
"notes":[
{"x":92.4,"p":8.43,"t":"note","text":"oyster farmer"},{"x":106.5,"p":6.68,"t":"note","text":"ein Tief kommt"},{"x":106.5,"p":6.53,"t":"note","text":"noch..."},{"x":115.6,"p":5.92,"t":"note","text":"ein Tief kommt"},{"x":115.6,"p":5.78,"t":"note","text":"noch..."},{"x":137.6,"p":5.30,"t":"note","text":"ein Tief kommt"},{"x":137.6,"p":5.17,"t":"note","text":"noch..."},{"x":156.6,"p":4.90,"t":"note","text":"ein Tief kommt"},{"x":156.6,"p":4.79,"t":"note","text":"noch..."},{"x":190.5,"p":4.80,"t":"alert","text":"Lollipop + pink"}
],
"rows2":[
{"row":"D","v":9.6,"a":-22.7,"b":-16.8,"s":"green"},{"row":"D","v":9.6,"a":-16.8,"b":-12.1,"s":"red"},{"row":"D","v":9.6,"a":-12.1,"b":130.5,"s":"green"},{"row":"D","v":9.6,"a":130.5,"b":185.8,"s":"red"},
{"row":"B","v":11.6,"a":-22.7,"b":-21.4,"s":"red"},{"row":"B","v":11.6,"a":-21.4,"b":-11.4,"s":"green"},{"row":"B","v":11.6,"a":-11.4,"b":-8.9,"s":"yellow"},{"row":"B","v":11.6,"a":-8.9,"b":-7.3,"s":"green"},{"row":"B","v":11.6,"a":-7.3,"b":-5.6,"s":"yellow"},{"row":"B","v":11.6,"a":-5.6,"b":-4.1,"s":"green"},{"row":"B","v":11.6,"a":-4.1,"b":-3,"s":"yellow"},{"row":"B","v":11.6,"a":-3,"b":5.8,"s":"green"},{"row":"B","v":11.6,"a":5.8,"b":8,"s":"yellow"},{"row":"B","v":11.6,"a":8,"b":13.8,"s":"green"},{"row":"B","v":11.6,"a":13.8,"b":20.3,"s":"red"},{"row":"B","v":11.6,"a":20.3,"b":21.4,"s":"yellow"},{"row":"B","v":11.6,"a":21.4,"b":28.3,"s":"red"},{"row":"B","v":11.6,"a":28.3,"b":32.6,"s":"green"},{"row":"B","v":11.6,"a":32.6,"b":37.6,"s":"red"},{"row":"B","v":11.6,"a":37.6,"b":53.1,"s":"green"},{"row":"B","v":11.6,"a":53.1,"b":56.4,"s":"yellow"},{"row":"B","v":11.6,"a":56.4,"b":72.1,"s":"red"},{"row":"B","v":11.6,"a":72.1,"b":73.7,"s":"yellow"},{"row":"B","v":11.6,"a":73.7,"b":81.2,"s":"red"},{"row":"B","v":11.6,"a":81.2,"b":84.2,"s":"yellow"},{"row":"B","v":11.6,"a":84.2,"b":89,"s":"red"},{"row":"B","v":11.6,"a":89,"b":90.5,"s":"yellow"},{"row":"B","v":11.6,"a":90.5,"b":95.5,"s":"green"},{"row":"B","v":11.6,"a":95.5,"b":98.7,"s":"red"},{"row":"B","v":11.6,"a":98.7,"b":116,"s":"green"},{"row":"B","v":11.6,"a":116,"b":119.7,"s":"yellow"},{"row":"B","v":11.6,"a":119.7,"b":129.8,"s":"green"},{"row":"B","v":11.6,"a":129.8,"b":147.3,"s":"red"},{"row":"B","v":11.6,"a":147.3,"b":149.9,"s":"red"},{"row":"B","v":11.6,"a":149.9,"b":151,"s":"yellow"},{"row":"B","v":11.6,"a":151,"b":153.3,"s":"green"},{"row":"B","v":11.6,"a":153.3,"b":159,"s":"red"},{"row":"B","v":11.6,"a":159,"b":167.6,"s":"yellow"},{"row":"B","v":11.6,"a":167.6,"b":181.2,"s":"red"},{"row":"B","v":11.6,"a":181.2,"b":182.7,"s":"yellow"},{"row":"B","v":11.6,"a":182.7,"b":185.8,"s":"red"},
{"row":"C","v":10.6,"a":-19,"b":-16,"s":"black"},{"row":"C","v":10.6,"a":-11.7,"b":-6,"s":"red"},{"row":"C","v":10.6,"a":-5.6,"b":-3.5,"s":"black"},{"row":"C","v":10.6,"a":3.5,"b":5.2,"s":"black"},{"row":"C","v":10.6,"a":5.2,"b":9.1,"s":"red"},{"row":"C","v":10.6,"a":13.2,"b":19.7,"s":"red"},{"row":"C","v":10.6,"a":20.3,"b":24,"s":"black"},{"row":"C","v":10.6,"a":24.2,"b":26.3,"s":"black"},{"row":"C","v":10.6,"a":29.6,"b":34.8,"s":"black"},{"row":"C","v":10.6,"a":41,"b":45.8,"s":"black"},{"row":"C","v":10.6,"a":50.1,"b":51.2,"s":"black"},{"row":"C","v":10.6,"a":51.2,"b":57,"s":"red"},{"row":"C","v":10.6,"a":57,"b":59.8,"s":"black"},{"row":"C","v":10.6,"a":59.8,"b":67.2,"s":"red"},{"row":"C","v":10.6,"a":67.2,"b":72.1,"s":"black"},{"row":"C","v":10.6,"a":72.1,"b":73.9,"s":"red"},{"row":"C","v":10.6,"a":74.3,"b":78.6,"s":"black"},{"row":"C","v":10.6,"a":86.8,"b":89.4,"s":"black"},{"row":"C","v":10.6,"a":92.2,"b":94.8,"s":"black"},{"row":"C","v":10.6,"a":95.2,"b":100.9,"s":"red"},{"row":"C","v":10.6,"a":100.9,"b":103,"s":"black"},{"row":"C","v":10.6,"a":104.1,"b":107.1,"s":"red"},{"row":"C","v":10.6,"a":111.4,"b":116,"s":"black"},{"row":"C","v":10.6,"a":122.2,"b":125.1,"s":"black"},{"row":"C","v":10.6,"a":136.3,"b":141.3,"s":"black"},{"row":"C","v":10.6,"a":141.3,"b":144.5,"s":"green"},{"row":"C","v":10.6,"a":144.5,"b":147.1,"s":"black"},{"row":"C","v":10.6,"a":161.3,"b":166.7,"s":"black"},{"row":"C","v":10.6,"a":173.2,"b":176.2,"s":"black"},{"row":"C","v":10.6,"a":180.1,"b":182.7,"s":"green"},{"row":"C","v":10.6,"a":183.4,"b":184.4,"s":"black"},
{"row":"A","v":13.8,"a":-22.7,"b":-20.7,"s":"black"},{"row":"A","v":13.8,"a":-20.7,"b":-17.5,"s":"maroon"},{"row":"A","v":13.8,"a":-17.5,"b":-16.2,"s":"black"},{"row":"A","v":13.8,"a":-16.2,"b":-14.3,"s":"green"},{"row":"A","v":13.8,"a":-14.3,"b":-11.7,"s":"dark"},{"row":"A","v":13.8,"a":-11.7,"b":-8.4,"s":"black"},{"row":"A","v":13.8,"a":-8.4,"b":-7.8,"s":"green"},{"row":"A","v":13.8,"a":-7.8,"b":-5.2,"s":"black"},{"row":"A","v":13.8,"a":-5.2,"b":-4.8,"s":"green"},{"row":"A","v":13.8,"a":-4.8,"b":-2.2,"s":"black"},{"row":"A","v":13.8,"a":-2.2,"b":5,"s":"dark"},{"row":"A","v":13.8,"a":5,"b":6.3,"s":"green"},{"row":"A","v":13.8,"a":6.3,"b":7.8,"s":"black"},{"row":"A","v":13.8,"a":7.8,"b":14.3,"s":"green"},{"row":"A","v":13.8,"a":14.3,"b":16.8,"s":"black"},{"row":"A","v":13.8,"a":16.8,"b":21.4,"s":"red"},{"row":"A","v":13.8,"a":21.4,"b":23.8,"s":"black"},{"row":"A","v":13.8,"a":23.8,"b":28.3,"s":"red"},{"row":"A","v":13.8,"a":28.3,"b":29.8,"s":"black"},{"row":"A","v":13.8,"a":29.8,"b":32.4,"s":"green"},{"row":"A","v":13.8,"a":32.4,"b":35.9,"s":"black"},{"row":"A","v":13.8,"a":35.9,"b":36.1,"s":"green"},{"row":"A","v":13.8,"a":36.1,"b":38,"s":"black"},{"row":"A","v":13.8,"a":38,"b":47.3,"s":"green"},{"row":"A","v":13.8,"a":47.3,"b":50.5,"s":"black"},{"row":"A","v":13.8,"a":50.5,"b":58.1,"s":"green"},{"row":"A","v":13.8,"a":58.1,"b":62,"s":"black"},{"row":"A","v":13.8,"a":62,"b":68.3,"s":"red"},{"row":"A","v":13.8,"a":68.3,"b":74.7,"s":"black"},{"row":"A","v":13.8,"a":74.7,"b":80.8,"s":"green"},{"row":"A","v":13.8,"a":80.8,"b":100.2,"s":"black"},{"row":"A","v":13.8,"a":100.2,"b":104.5,"s":"green"},{"row":"A","v":13.8,"a":104.5,"b":106,"s":"black"},{"row":"A","v":13.8,"a":106,"b":113.2,"s":"dark"},{"row":"A","v":13.8,"a":113.2,"b":124.6,"s":"black"},{"row":"A","v":13.8,"a":124.6,"b":134.3,"s":"red"},{"row":"A","v":13.8,"a":134.3,"b":138,"s":"maroon"},{"row":"A","v":13.8,"a":138,"b":146.2,"s":"red"},{"row":"A","v":13.8,"a":146.4,"b":152.7,"s":"black"},{"row":"A","v":13.8,"a":152.7,"b":158.5,"s":"red"},{"row":"A","v":13.8,"a":158.5,"b":168.7,"s":"black"},{"row":"A","v":13.8,"a":168.7,"b":177.1,"s":"red"},{"row":"A","v":13.8,"a":177.1,"b":179.3,"s":"maroon"},{"row":"A","v":13.8,"a":179.3,"b":185.8,"s":"red"},
{"row":"E","v":8.2,"a":-22.7,"b":-21.4,"s":"green"},{"row":"E","v":8.2,"a":-21.4,"b":-14.9,"s":"red"},{"row":"E","v":8.2,"a":-14.9,"b":-8,"s":"green"},{"row":"E","v":8.2,"a":-8,"b":-5,"s":"red"},{"row":"E","v":8.2,"a":-5,"b":6.9,"s":"green"},{"row":"E","v":8.2,"a":6.9,"b":10.2,"s":"black"},{"row":"E","v":8.2,"a":10.2,"b":14.9,"s":"green"},{"row":"E","v":8.2,"a":14.9,"b":19,"s":"black"},{"row":"E","v":8.2,"a":19,"b":30,"s":"red"},{"row":"E","v":8.2,"a":30,"b":31.5,"s":"black"},{"row":"E","v":8.2,"a":31.5,"b":34.8,"s":"green"},{"row":"E","v":8.2,"a":34.8,"b":38.2,"s":"red"},{"row":"E","v":8.2,"a":38.2,"b":53.8,"s":"green"},{"row":"E","v":8.2,"a":53.8,"b":64.1,"s":"black"},{"row":"E","v":8.2,"a":64.1,"b":72.8,"s":"red"},{"row":"E","v":8.2,"a":72.8,"b":75.4,"s":"black"},{"row":"E","v":8.2,"a":75.4,"b":82.9,"s":"green"},{"row":"E","v":8.2,"a":82.9,"b":85.1,"s":"black"},{"row":"E","v":8.2,"a":85.1,"b":90.1,"s":"red"},{"row":"E","v":8.2,"a":90.1,"b":98.7,"s":"green"},{"row":"E","v":8.2,"a":98.7,"b":99.6,"s":"black"},{"row":"E","v":8.2,"a":99.6,"b":105,"s":"green"},{"row":"E","v":8.2,"a":105,"b":106.3,"s":"black"},{"row":"E","v":8.2,"a":106.3,"b":117.9,"s":"green"},{"row":"E","v":8.2,"a":117.9,"b":123.3,"s":"black"},{"row":"E","v":8.2,"a":123.3,"b":141.9,"s":"red"},{"row":"E","v":8.2,"a":141.9,"b":154.4,"s":"black"},{"row":"E","v":8.2,"a":154.4,"b":159.2,"s":"red"},{"row":"E","v":8.2,"a":159.2,"b":169.5,"s":"black"},{"row":"E","v":8.2,"a":169.5,"b":182.3,"s":"red"},{"row":"E","v":8.2,"a":182.3,"b":185.8,"s":"black"},
{"row":"F","v":6.8,"a":-22.7,"b":-22.2,"s":"green"},{"row":"F","v":6.8,"a":-22.2,"b":-21,"s":"black"},{"row":"F","v":6.8,"a":-21,"b":-14.9,"s":"red"},{"row":"F","v":6.8,"a":-14.9,"b":-8,"s":"green"},{"row":"F","v":6.8,"a":-8,"b":-5,"s":"red"},{"row":"F","v":6.8,"a":-5,"b":6.9,"s":"green"},{"row":"F","v":6.8,"a":6.9,"b":12.1,"s":"black"},{"row":"F","v":6.8,"a":12.1,"b":13.8,"s":"green"},{"row":"F","v":6.8,"a":13.8,"b":16.4,"s":"black"},{"row":"F","v":6.8,"a":16.4,"b":24,"s":"red"},{"row":"F","v":6.8,"a":24,"b":27.2,"s":"black"},{"row":"F","v":6.8,"a":27.2,"b":28.7,"s":"red"},{"row":"F","v":6.8,"a":28.7,"b":30,"s":"black"},{"row":"F","v":6.8,"a":30,"b":35.9,"s":"green"},{"row":"F","v":6.8,"a":35.9,"b":38.2,"s":"black"},{"row":"F","v":6.8,"a":38.2,"b":53.1,"s":"green"},{"row":"F","v":6.8,"a":53.1,"b":62.4,"s":"black"},{"row":"F","v":6.8,"a":62.4,"b":72.1,"s":"red"},{"row":"F","v":6.8,"a":72.1,"b":74.1,"s":"black"},{"row":"F","v":6.8,"a":74.1,"b":81.9,"s":"green"},{"row":"F","v":6.8,"a":81.9,"b":85.1,"s":"black"},{"row":"F","v":6.8,"a":85.1,"b":91.1,"s":"red"},{"row":"F","v":6.8,"a":91.1,"b":92.2,"s":"black"},{"row":"F","v":6.8,"a":92.2,"b":101.7,"s":"green"},{"row":"F","v":6.8,"a":101.7,"b":102.4,"s":"black"},{"row":"F","v":6.8,"a":102.4,"b":105,"s":"green"},{"row":"F","v":6.8,"a":105,"b":106.3,"s":"black"},{"row":"F","v":6.8,"a":106.3,"b":116.8,"s":"green"},{"row":"F","v":6.8,"a":116.8,"b":120.3,"s":"black"},{"row":"F","v":6.8,"a":120.3,"b":130,"s":"red"},{"row":"F","v":6.8,"a":130,"b":131.3,"s":"black"},{"row":"F","v":6.8,"a":131.3,"b":141,"s":"red"},{"row":"F","v":6.8,"a":141,"b":151.4,"s":"black"},{"row":"F","v":6.8,"a":151.4,"b":152.7,"s":"green"},{"row":"F","v":6.8,"a":152.7,"b":159.2,"s":"red"},{"row":"F","v":6.8,"a":159.2,"b":167.2,"s":"black"},{"row":"F","v":6.8,"a":167.2,"b":169.3,"s":"green"},{"row":"F","v":6.8,"a":169.3,"b":181.2,"s":"red"},{"row":"F","v":6.8,"a":181.2,"b":185.8,"s":"black"},
{"row":"G","v":5.1,"a":-22.7,"b":-21.8,"s":"green"},{"row":"G","v":5.1,"a":-21.8,"b":-21,"s":"black"},{"row":"G","v":5.1,"a":-21,"b":-14.9,"s":"red"},{"row":"G","v":5.1,"a":-14.9,"b":-12.3,"s":"yellow"},{"row":"G","v":5.1,"a":-12.3,"b":-8,"s":"green"},{"row":"G","v":5.1,"a":-8,"b":-5,"s":"black"},{"row":"G","v":5.1,"a":-5,"b":0,"s":"dark"},{"row":"G","v":5.1,"a":0,"b":19,"s":"green"},{"row":"G","v":5.1,"a":19,"b":22,"s":"black"},{"row":"G","v":5.1,"a":22,"b":31.1,"s":"red"},{"row":"G","v":5.1,"a":31.1,"b":34.8,"s":"yellow"},{"row":"G","v":5.1,"a":34.8,"b":38.2,"s":"red"},{"row":"G","v":5.1,"a":38.2,"b":40,"s":"yellow"},{"row":"G","v":5.1,"a":40,"b":64.1,"s":"green"},{"row":"G","v":5.1,"a":64.1,"b":66.3,"s":"black"},{"row":"G","v":5.1,"a":66.3,"b":75.4,"s":"red"},{"row":"G","v":5.1,"a":75.4,"b":79,"s":"yellow"},{"row":"G","v":5.1,"a":79,"b":85.1,"s":"green"},{"row":"G","v":5.1,"a":85.1,"b":87.5,"s":"black"},{"row":"G","v":5.1,"a":87.5,"b":90.1,"s":"red"},{"row":"G","v":5.1,"a":90.1,"b":92,"s":"yellow"},{"row":"G","v":5.1,"a":92,"b":123.3,"s":"green"},{"row":"G","v":5.1,"a":123.3,"b":125.5,"s":"black"},{"row":"G","v":5.1,"a":125.5,"b":185.8,"s":"red"}
],
"rows3":[
{"row":"H","v":-1.5,"a":-22.7,"b":-20.1,"s":"green"},{"row":"H","v":-1.5,"a":-20.1,"b":-17.5,"s":"red"},{"row":"H","v":-1.5,"a":-17.5,"b":-13.6,"s":"green"},{"row":"H","v":-1.5,"a":-13.6,"b":-4.5,"s":"red"},{"row":"H","v":-1.5,"a":-4.5,"b":-2.4,"s":"dark"},{"row":"H","v":-1.5,"a":-2.4,"b":0.4,"s":"green"},{"row":"H","v":-1.5,"a":0.4,"b":14.5,"s":"red"},{"row":"H","v":-1.5,"a":14.5,"b":15.6,"s":"green"},{"row":"H","v":-1.5,"a":15.6,"b":20.3,"s":"red"},{"row":"H","v":-1.5,"a":20.3,"b":26.3,"s":"green"},{"row":"H","v":-1.5,"a":26.3,"b":28.3,"s":"red"},{"row":"H","v":-1.5,"a":28.3,"b":39.3,"s":"green"},{"row":"H","v":-1.5,"a":39.3,"b":57.5,"s":"red"},{"row":"H","v":-1.5,"a":57.5,"b":60.7,"s":"green"},{"row":"H","v":-1.5,"a":60.7,"b":68.3,"s":"red"},{"row":"H","v":-1.5,"a":68.3,"b":74.7,"s":"green"},{"row":"H","v":-1.5,"a":74.7,"b":82.5,"s":"red"},{"row":"H","v":-1.5,"a":82.5,"b":97.4,"s":"green"},{"row":"H","v":-1.5,"a":97.4,"b":102.4,"s":"red"},{"row":"H","v":-1.5,"a":102.4,"b":103.5,"s":"green"},{"row":"H","v":-1.5,"a":103.5,"b":105.6,"s":"red"},{"row":"H","v":-1.5,"a":105.6,"b":109.5,"s":"green"},{"row":"H","v":-1.5,"a":109.5,"b":120.7,"s":"red"},{"row":"H","v":-1.5,"a":120.7,"b":127.6,"s":"green"},{"row":"H","v":-1.5,"a":127.6,"b":130.9,"s":"red"},{"row":"H","v":-1.5,"a":130.9,"b":145.6,"s":"green"},{"row":"H","v":-1.5,"a":145.6,"b":146.7,"s":"red"},{"row":"H","v":-1.5,"a":146.7,"b":152.7,"s":"green"},{"row":"H","v":-1.5,"a":152.7,"b":157.7,"s":"red"},{"row":"H","v":-1.5,"a":157.7,"b":165.7,"s":"green"},{"row":"H","v":-1.5,"a":165.7,"b":171.7,"s":"red"},{"row":"H","v":-1.5,"a":171.7,"b":183.8,"s":"green"},{"row":"H","v":-1.5,"a":183.8,"b":185.8,"s":"red"},
{"row":"I","v":-4.4,"a":-22.7,"b":-21.8,"s":"green"},{"row":"I","v":-4.4,"a":-21.8,"b":-15.3,"s":"red"},{"row":"I","v":-4.4,"a":-15.3,"b":5.6,"s":"green"},{"row":"I","v":-4.4,"a":5.6,"b":11.7,"s":"red"},{"row":"I","v":-4.4,"a":11.7,"b":15.3,"s":"green"},{"row":"I","v":-4.4,"a":15.3,"b":26.3,"s":"red"},{"row":"I","v":-4.4,"a":26.3,"b":42.3,"s":"green"},{"row":"I","v":-4.4,"a":42.3,"b":60.7,"s":"red"},{"row":"I","v":-4.4,"a":60.7,"b":64.1,"s":"green"},{"row":"I","v":-4.4,"a":64.1,"b":67.8,"s":"red"},{"row":"I","v":-4.4,"a":67.8,"b":74.9,"s":"green"},{"row":"I","v":-4.4,"a":74.9,"b":91.4,"s":"red"},{"row":"I","v":-4.4,"a":91.4,"b":99.6,"s":"green"},{"row":"I","v":-4.4,"a":99.6,"b":100.6,"s":"red"},{"row":"I","v":-4.4,"a":100.6,"b":101.5,"s":"green"},{"row":"I","v":-4.4,"a":101.5,"b":106.5,"s":"red"},{"row":"I","v":-4.4,"a":106.5,"b":107.3,"s":"green"},{"row":"I","v":-4.4,"a":107.3,"b":108.4,"s":"red"},{"row":"I","v":-4.4,"a":108.4,"b":110.6,"s":"green"},{"row":"I","v":-4.4,"a":110.6,"b":124.6,"s":"red"},{"row":"I","v":-4.4,"a":124.6,"b":155.7,"s":"green"},{"row":"I","v":-4.4,"a":155.7,"b":158.5,"s":"red"},{"row":"I","v":-4.4,"a":158.5,"b":159.6,"s":"green"},{"row":"I","v":-4.4,"a":159.6,"b":160.5,"s":"red"},{"row":"I","v":-4.4,"a":160.5,"b":168.7,"s":"green"},{"row":"I","v":-4.4,"a":168.7,"b":173.7,"s":"red"},{"row":"I","v":-4.4,"a":173.7,"b":185.8,"s":"green"},
{"row":"J","v":-6.75,"a":-22.7,"b":-19.4,"s":"green"},{"row":"J","v":-6.75,"a":-19.4,"b":-16.6,"s":"red"},{"row":"J","v":-6.75,"a":-16.6,"b":14.5,"s":"green"},{"row":"J","v":-6.75,"a":14.5,"b":31.5,"s":"red"},{"row":"J","v":-6.75,"a":31.5,"b":45.6,"s":"green"},{"row":"J","v":-6.75,"a":45.6,"b":75.4,"s":"red"},{"row":"J","v":-6.75,"a":75.4,"b":87.7,"s":"green"},{"row":"J","v":-6.75,"a":87.7,"b":96.5,"s":"red"},{"row":"J","v":-6.75,"a":96.5,"b":108.6,"s":"green"},{"row":"J","v":-6.75,"a":108.6,"b":132,"s":"red"},{"row":"J","v":-6.75,"a":132,"b":170.6,"s":"green"},{"row":"J","v":-6.75,"a":170.6,"b":178.6,"s":"red"},{"row":"J","v":-6.75,"a":178.6,"b":185.8,"s":"green"}
],
"text2":[
{"x":63.7,"v":15.4,"t":"black","text":"ICE Trading Deluxe Big Point"},{"x":38.7,"v":13.8,"t":"black","text":"Von oben: Swing / Kerzenfarbe / Wochen-Trend / Setter / Welle"},{"x":-21.2,"v":12.4,"t":"grey","text":"Croc 3.0 Lochstreifen · Professional (off)"},
{"x":27.6,"v":12.4,"t":"grey","text":"Ø"},{"x":31.1,"v":12.4,"t":"red","text":"14.00"},{"x":38.9,"v":12.4,"t":"grey","text":"Ø"},{"x":42.1,"v":12.4,"t":"grey","text":"Ø"},{"x":45.6,"v":12.4,"t":"grey","text":"Ø"},{"x":48.8,"v":12.4,"t":"grey","text":"Ø"},{"x":52.1,"v":12.4,"t":"grey","text":"Ø"},{"x":55.5,"v":12.4,"t":"red","text":"10.50"},{"x":63.5,"v":12.4,"t":"yellow","text":"11.50"},{"x":72.8,"v":12.4,"t":"red","text":"1.50"},{"x":79.3,"v":12.4,"t":"grey","text":"Ø"},{"x":82.4,"v":12.4,"t":"grey","text":"Ø"},{"x":85.7,"v":12.4,"t":"grey","text":"Ø"},{"x":89,"v":12.4,"t":"red","text":"9.50"},{"x":95.5,"v":12.4,"t":"black","text":"8.50"},{"x":102.1,"v":12.4,"t":"grey","text":"Ø"},{"x":105.6,"v":12.4,"t":"grey","text":"Ø"},{"x":108.9,"v":12.4,"t":"black","text":"7.50"},{"x":116.2,"v":12.4,"t":"grey","text":"Ø"},{"x":119.6,"v":12.4,"t":"grey","text":"Ø"},{"x":122.9,"v":12.4,"t":"grey","text":"Ø"},{"x":126.1,"v":12.4,"t":"grey","text":"Ø"},{"x":129.6,"v":12.4,"t":"grey","text":"Ø"},{"x":132,"v":12.4,"t":"red","text":"6.50"},{"x":138.4,"v":12.4,"t":"grey","text":"Ø"},{"x":141.8,"v":12.4,"t":"grey","text":"Ø"}
],
"text3":[
{"x":-21.2,"v":-3,"t":"grey","text":"Croc 3.0 MSI · Professional (off)"},{"x":21,"v":-3,"t":"red","text":"-.5000"},{"x":32.2,"v":-3,"t":"red","text":"-.50"},{"x":36.9,"v":-3,"t":"red","text":"-2.50"},{"x":43.6,"v":-3,"t":"grey","text":"Ø"},{"x":46.9,"v":-3,"t":"red","text":"-0.50"},{"x":57.7,"v":-3,"t":"grey","text":"Ø"},{"x":62.4,"v":-3,"t":"red","text":"-1.50"},{"x":69.1,"v":-3,"t":"grey","text":"Ø"},{"x":72.4,"v":-3,"t":"grey","text":"Ø"},{"x":75.6,"v":-3,"t":"grey","text":"Ø"},{"x":78.4,"v":-3,"t":"grey","text":"Ø"},{"x":83.4,"v":-3,"t":"lime","text":"-2.50"}
],
"footer":[{"i":-19.3,"lvl":0.48}],
"brand":[{"i":-14.5,"lvl":0.48,"text":"TradingView"}]
},
"vconcat":[
{"width":1234,"height":505,
"layer":[
{"data":{"name":"clouds"},"mark":{"type":"area","opacity":1},"encoding":{"x":{"field":"i","type":"quantitative","scale":{"domain":[-22.68,243.8],"nice":false,"zero":false,"padding":0},"axis":null},"y":{"field":"u","type":"quantitative","scale":{"type":"log","domain":[4.51,10],"nice":false},"axis":{"orient":"right","values":[4.56,4.8,5.3,5.6,6.3,6.7,7.1,7.5,8,8.5,9,9.5],"format":".2f","title":null,"domain":false,"ticks":false,"grid":false,"labelPadding":-44,"labelColor":"#b2b5be","labelFontSize":12,"labelAlign":"left"}},"y2":{"field":"d"},"detail":{"field":"c"},"color":{"field":"t","type":"nominal","scale":{"domain":["bull","bear"],"range":["#f1fbf1","#fcf0fc"]},"legend":null}}},
{"data":{"name":"tool"},"mark":{"type":"rect"},"encoding":{"x":{"field":"a","type":"quantitative"},"x2":{"field":"b"},"y":{"field":"t","type":"quantitative"},"y2":{"field":"d"},"fill":{"field":"z","type":"nominal","scale":{"domain":["target","stop"],"range":["#cfeae4","#fbd5d8"]},"legend":null}}},
{"data":{"name":"levels"},"transform":[{"filter":"datum.z!='last'"}],"mark":{"type":"rule","strokeWidth":1},"encoding":{"x":{"field":"a","type":"quantitative"},"x2":{"field":"b"},"y":{"field":"p","type":"quantitative"},"color":{"field":"z","type":"nominal","scale":{"domain":["target","entry"],"range":["#a6dccf","#787b86"]},"legend":null}}},
{"data":{"name":"levels"},"transform":[{"filter":"datum.z=='last'"}],"mark":{"type":"rule","strokeWidth":1,"strokeDash":[1,2],"color":"#f00000"},"encoding":{"x":{"field":"a","type":"quantitative"},"x2":{"field":"b"},"y":{"field":"p","type":"quantitative"}}},
{"data":{"name":"lines"},"mark":{"type":"line","strokeWidth":2.2,"interpolate":"linear","clip":true},"encoding":{"x":{"field":"i","type":"quantitative"},"y":{"field":"p","type":"quantitative"},"detail":{"field":"s"},"order":{"field":"i","type":"quantitative"},"color":{"field":"s","type":"nominal","scale":{"domain":["blue","red"],"range":["#0a0aff","#ff1010"]},"legend":null}}},
{"data":{"name":"candles"},"mark":{"type":"rule","strokeWidth":1},"encoding":{"x":{"field":"i","type":"quantitative"},"y":{"field":"l","type":"quantitative"},"y2":{"field":"h"},"color":{"field":"w","type":"nominal","scale":{"domain":["up","down"],"range":["#089981","#f23645"]},"legend":null}}},
{"data":{"name":"candles"},"mark":{"type":"bar","orient":"vertical","size":2,"strokeWidth":1},"encoding":{"x":{"field":"i","type":"quantitative"},"y":{"field":"o","type":"quantitative"},"y2":{"field":"c"},"fill":{"field":"k","type":"nominal","scale":{"domain":["g","r","h","b","k","t","m","n"],"range":["#ffffff","#f7252f","#ffffff","#ffffff","#000000","#089981","#f7252f","#000000"]},"legend":null},"stroke":{"field":"k","type":"nominal","scale":{"domain":["g","r","h","b","k","t","m","n"],"range":["#00ff00","#f7252f","#f7252f","#000000","#000000","#089981","#00ff00","#f7252f"]},"legend":null}}},
{"data":{"name":"dots"},"mark":{"type":"point","filled":true,"opacity":1,"shape":"circle"},"encoding":{"x":{"field":"i","type":"quantitative"},"y":{"field":"p","type":"quantitative"},"color":{"field":"n","type":"nominal","scale":{"domain":["cyan","yellow","blue","sea","lime","red","forest","magenta","black"],"range":["#00e5ff","#ffeb00","#0000ff","#3cb371","#00ff00","#ff0000","#006400","#ff00ff","#000000"]},"legend":null},"size":{"field":"n","type":"nominal","scale":{"type":"ordinal","domain":["cyan","yellow","blue","sea","lime","red","forest","magenta","black"],"range":[70,70,70,70,120,140,70,70,70]},"legend":null}}},
{"data":{"name":"rings"},"mark":{"type":"point","shape":"circle","filled":false,"fill":"#ffffff","fillOpacity":1,"opacity":1,"strokeWidth":3,"size":85},"encoding":{"x":{"field":"i","type":"quantitative"},"y":{"field":"p","type":"quantitative"},"stroke":{"field":"n","type":"nominal","scale":{"domain":["red","orange","lime"],"range":["#ff0000","#ff9a3c","#00ff00"]},"legend":null}}},
{"data":{"name":"crosses"},"mark":{"type":"point","shape":"cross","filled":true,"opacity":1,"size":70},"encoding":{"x":{"field":"i","type":"quantitative"},"y":{"field":"p","type":"quantitative"},"color":{"field":"n","type":"nominal","scale":{"domain":["red","sea"],"range":["#ff0000","#3cb371"]},"legend":null}}},
{"data":{"name":"overlay"},"mark":{"type":"point","shape":"circle","filled":true,"opacity":1},"encoding":{"x":{"field":"i","type":"quantitative"},"y":{"field":"p","type":"quantitative"},"color":{"field":"n","type":"nominal","scale":{"domain":["greyB","grey","maroon","tiny"],"range":["#8c8c8c","#8c8c8c","#8b1a1a","#8c8c8c"]},"legend":null},"size":{"field":"n","type":"nominal","scale":{"type":"ordinal","domain":["greyB","grey","maroon","tiny"],"range":[130,45,38,6]},"legend":null}}},
{"data":{"name":"events"},"mark":{"type":"point","filled":false,"fill":"#ffffff","fillOpacity":1,"opacity":1,"strokeWidth":2,"size":290},"encoding":{"x":{"field":"i","type":"quantitative"},"y":{"field":"p","type":"quantitative"},"shape":{"field":"n","type":"nominal","scale":{"domain":["D","E","P"],"range":["circle","M-0.9,-0.45 L0,-1 L0.9,-0.45 L0.9,0.95 L-0.9,0.95 Z","square"]},"legend":null},"stroke":{"field":"n","type":"nominal","scale":{"domain":["D","E","P"],"range":["#2962ff","#089981","#e040fb"]},"legend":null}}},
{"data":{"name":"eventText"},"mark":{"type":"text","fontSize":12,"align":"center","baseline":"middle","fontWeight":"bold"},"encoding":{"x":{"field":"i","type":"quantitative"},"y":{"field":"p","type":"quantitative"},"text":{"field":"text"},"color":{"field":"n","type":"nominal","scale":{"domain":["D","E","P"],"range":["#2962ff","#089981","#e040fb"]},"legend":null}}},
{"data":{"name":"tags"},"mark":{"type":"rect","cornerRadius":1},"encoding":{"x":{"field":"a","type":"quantitative"},"x2":{"field":"b"},"y":{"field":"t","type":"quantitative"},"y2":{"field":"d"},"fill":{"field":"z","type":"nominal","scale":{"domain":["target","entry","last","stop"],"range":["#089981","#787b86","#ff0000","#f23645"]},"legend":null}}},
{"data":{"name":"tags"},"mark":{"type":"text","fontSize":12,"fontWeight":600,"align":"center","baseline":"middle","color":"#ffffff"},"encoding":{"x":{"field":"x","type":"quantitative"},"y":{"field":"m","type":"quantitative"},"text":{"field":"text"}}},
{"data":{"values":[{"a":233.3,"b":243.2,"t":9.9,"d":9.56}]},"mark":{"type":"rect","fill":"#ffffff","stroke":"#e0e3eb","cornerRadius":4},"encoding":{"x":{"field":"a","type":"quantitative"},"x2":{"field":"b"},"y":{"field":"t","type":"quantitative"},"y2":{"field":"d"}}},
{"data":{"values":[{"x":238.2,"p":9.73,"text":"USD"}]},"mark":{"type":"text","fontSize":11,"fontWeight":500,"align":"center","baseline":"middle","color":"#131722"},"encoding":{"x":{"field":"x","type":"quantitative"},"y":{"field":"p","type":"quantitative"},"text":{"field":"text"}}},
{"data":{"name":"legend"},"mark":{"type":"text","fontSize":12.2,"font":"Lato","align":"left","baseline":"middle"},"encoding":{"x":{"field":"x","type":"quantitative"},"y":{"field":"p","type":"quantitative"},"text":{"field":"text"},"color":{"field":"t","type":"nominal","scale":{"domain":["grey","green","blue","red","magenta"],"range":["#b2b5be","#089981","#0000ff","#ff0000","#ff00ff"]},"legend":null}}},
{"data":{"name":"notes"},"mark":{"type":"text","fontSize":13.4,"align":"left","baseline":"middle"},"encoding":{"x":{"field":"x","type":"quantitative"},"y":{"field":"p","type":"quantitative"},"text":{"field":"text"},"color":{"field":"t","type":"nominal","scale":{"domain":["note","alert"],"range":["#2962ff","#f23645"]},"legend":null}}}
],
"resolve":{"scale":{"color":"independent","fill":"independent","stroke":"independent","size":"independent","shape":"independent"}}
},
{"width":1234,"height":58,
"layer":[
{"data":{"name":"rows2"},"mark":{"type":"rule","strokeCap":"butt"},"encoding":{"x":{"field":"a","type":"quantitative","scale":{"domain":[-22.68,243.8],"nice":false,"zero":false},"axis":null},"x2":{"field":"b"},"y":{"field":"v","type":"quantitative","scale":{"domain":[4,15.6],"nice":false,"zero":false},"axis":{"orient":"right","values":[10],"format":".2f","title":null,"domain":false,"ticks":false,"grid":false,"labelPadding":-44,"labelColor":"#b2b5be","labelFontSize":12,"labelAlign":"left"}},"size":{"field":"row","type":"nominal","scale":{"type":"ordinal","domain":["A","B","C","D","E","F","G"],"range":[8,10,3,7,7,8,9]},"legend":null},"color":{"field":"s","type":"nominal","scale":{"domain":["green","red","black","yellow","dark","maroon"],"range":["#00ff00","#ff0000","#000000","#ffff00","#008000","#800000"]},"legend":null}}},
{"data":{"name":"text2"},"mark":{"type":"text","fontSize":12.2,"font":"Lato","align":"left","baseline":"middle","clip":true},"encoding":{"x":{"field":"x","type":"quantitative","scale":{"domain":[-22.68,243.8],"nice":false,"zero":false},"axis":null},"y":{"field":"v","type":"quantitative"},"text":{"field":"text"},"color":{"field":"t","type":"nominal","scale":{"domain":["grey","black","red","yellow"],"range":["#b2b5be","#000000","#ff0000","#ffff00"]},"legend":null}}}
],
"resolve":{"scale":{"color":"independent"}}
},
{"width":1234,"height":63,
"layer":[
{"data":{"name":"rows3"},"mark":{"type":"rule","strokeCap":"butt","strokeWidth":8},"encoding":{"x":{"field":"a","type":"quantitative","scale":{"domain":[-22.68,243.8],"nice":false,"zero":false},"axis":{"values":[-21,0,20,39,60,81,102,122,144,165,186,209,228],"labelExpr":"['Dec','2025','Feb','Mar','Apr','May','Jun','Jul','Aug','Sep','Oct','Nov','Dec'][indexof([-21,0,20,39,60,81,102,122,144,165,186,209,228],datum.value)]","title":null,"domain":false,"ticks":false,"grid":false,"labelPadding":-19,"labelColor":"#b2b5be","labelFontSize":12,"labelFontWeight":{"condition":{"test":"datum.value===0","value":"bold"},"value":"normal"},"labelFlush":false}},"x2":{"field":"b"},"y":{"field":"v","type":"quantitative","scale":{"domain":[-14.75,1],"nice":false,"zero":false},"axis":{"orient":"right","values":[0],"format":".4f","title":null,"domain":false,"ticks":false,"grid":false,"labelPadding":-44,"labelColor":"#b2b5be","labelFontSize":12,"labelAlign":"left"}},"color":{"field":"s","type":"nominal","scale":{"domain":["green","red","dark"],"range":["#00ff00","#ff0000","#008000"]},"legend":null}}},
{"data":{"name":"text3"},"mark":{"type":"text","fontSize":12.2,"font":"Lato","align":"left","baseline":"middle"},"encoding":{"x":{"field":"x","type":"quantitative","scale":{"domain":[-22.68,243.8],"nice":false,"zero":false}},"y":{"field":"v","type":"quantitative"},"text":{"field":"text"},"color":{"field":"t","type":"nominal","scale":{"domain":["grey","red","lime"],"range":["#b2b5be","#ff0000","#00ff00"]},"legend":null}}}
],
"resolve":{"scale":{"color":"independent"}}
},
{"width":1234,"height":60,"view":{"fill":null,"stroke":null},
"layer":[
{"data":{"name":"footer"},"mark":{"type":"point","filled":true,"opacity":1,"color":"#ffffff","size":1000,"shape":"M-0.222,-0.417 L-0.889,-0.417 L-0.889,-0.083 L-0.556,-0.083 L-0.556,0.417 L-0.222,0.417 Z M0.278,-0.25 A0.167,0.167 0 1 1 -0.056,-0.25 A0.167,0.167 0 1 1 0.278,-0.25 Z M0.583,-0.417 L0.222,0.417 L0.611,0.417 L0.972,-0.417 Z"},"encoding":{"x":{"field":"i","type":"quantitative","scale":{"domain":[-22.68,243.8],"nice":false,"zero":false},"axis":null},"y":{"field":"lvl","type":"quantitative","scale":{"domain":[0,1]},"axis":null}}},
{"data":{"name":"brand"},"mark":{"type":"text","fontSize":20,"fontWeight":600,"align":"left","baseline":"middle","color":"#ffffff"},"encoding":{"x":{"field":"i","type":"quantitative","scale":{"domain":[-22.68,243.8],"nice":false,"zero":false}},"y":{"field":"lvl","type":"quantitative"},"text":{"field":"text"}}}
]
}
]
}
